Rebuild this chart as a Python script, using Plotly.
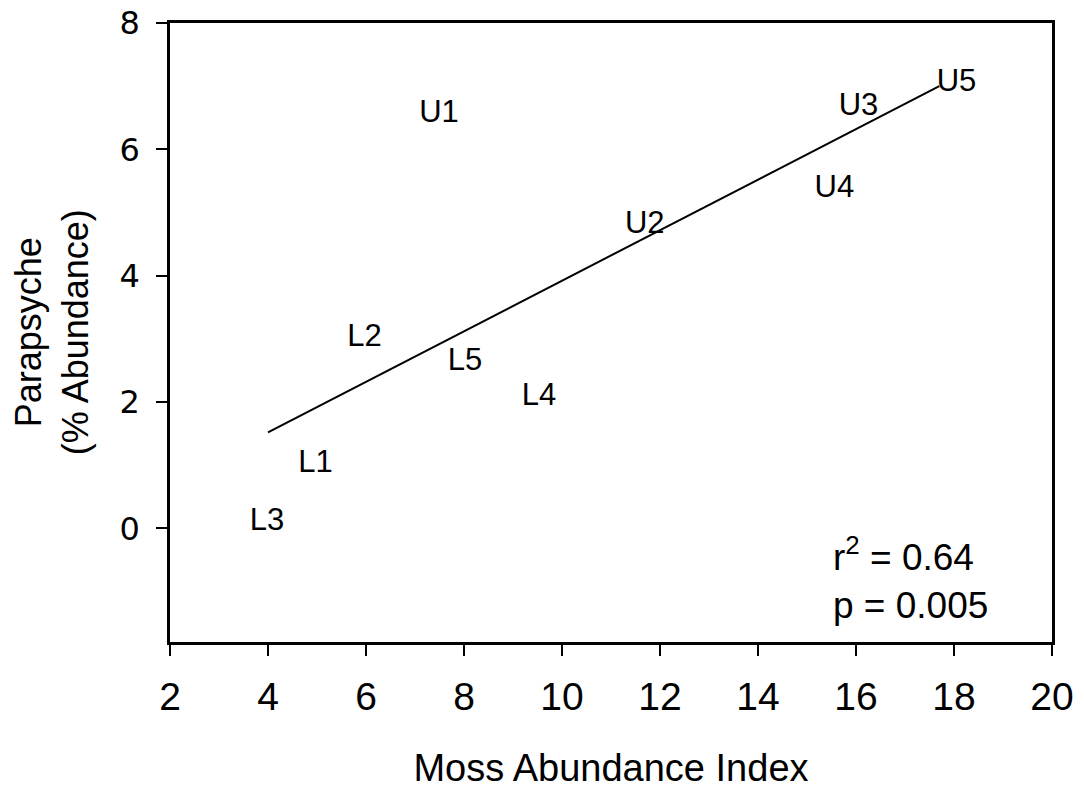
import plotly.graph_objects as go

# Site labels and their positions
site_labels = ["U1", "U2", "U3", "U4", "U5", "L1", "L2", "L3", "L4", "L5"]
moss_index = [7.49, 11.69, 16.05, 15.56, 18.05, 4.97, 5.97, 3.98, 9.53, 8.02]
parapsyche = [6.55, 4.80, 6.67, 5.37, 7.05, 1.01, 3.01, 0.09, 2.08, 2.63]

# Regression line end points
fit_x = [4.0, 17.7]
fit_y = [1.52, 7.0]

x_ticks = [2, 4, 6, 8, 10, 12, 14, 16, 18, 20]
y_ticks = [0, 2, 4, 6, 8]

fig = go.Figure()
fig.add_trace(go.Scatter(
    x=fit_x, y=fit_y, mode="lines",
    line=dict(color="black", width=2),
    showlegend=False, hoverinfo="skip",
))
fig.add_trace(go.Scatter(
    x=moss_index, y=parapsyche, mode="text", text=site_labels,
    textposition="middle center",
    textfont=dict(family="Arial, Liberation Sans", size=31, color="black"),
    showlegend=False,
))

fig.add_annotation(
    x=15.48, y=-0.79, xref="x", yref="y",
    text="r<sup>2</sup> = 0.64<br>p = 0.005",
    showarrow=False, xanchor="left", yanchor="middle", align="left",
    font=dict(family="Arial, Liberation Sans", size=37, color="black"),
)

fig.add_annotation(
    x=-0.134, y=0.5, xref="paper", yref="paper",
    text="Parapsyche<br>(% Abundance)", textangle=-90,
    showarrow=False, xanchor="center", yanchor="middle",
    font=dict(family="Arial, Liberation Sans", size=36, color="black"),
)

fig.update_xaxes(
    range=[2, 20], tickvals=x_ticks, ticktext=[str(v) for v in x_ticks],
    showline=True, linecolor="black", linewidth=2.5, mirror=True,
    ticks="outside", ticklen=11, tickwidth=2, tickcolor="black",
    showgrid=False, zeroline=False, automargin=False,
    tickfont=dict(family="Arial, Liberation Sans", size=39, color="black"),
    ticklabelstandoff=7,
    title=dict(text="Moss Abundance Index",
               font=dict(family="Arial, Liberation Sans", size=38, color="black"),
               standoff=40),
)
fig.update_yaxes(
    range=[-1.8, 8], tickvals=y_ticks, ticktext=[str(v) for v in y_ticks],
    showline=True, linecolor="black", linewidth=2.5, mirror=True,
    ticks="outside", ticklen=11, tickwidth=2, tickcolor="black",
    showgrid=False, zeroline=False, automargin=False,
    tickfont=dict(family="DejaVu Sans, Verdana", size=32, color="black"),
    ticklabelstandoff=10,
)

fig.update_layout(
    width=1084, height=789,
    margin=dict(l=170, r=32, t=23, b=147),
    paper_bgcolor="white", plot_bgcolor="white",
    showlegend=False,
)

fig.write_html("out.html", config={"displayModeBar": False},
               post_script="document.body.style.margin='0';document.body.style.overflow='hidden';")
